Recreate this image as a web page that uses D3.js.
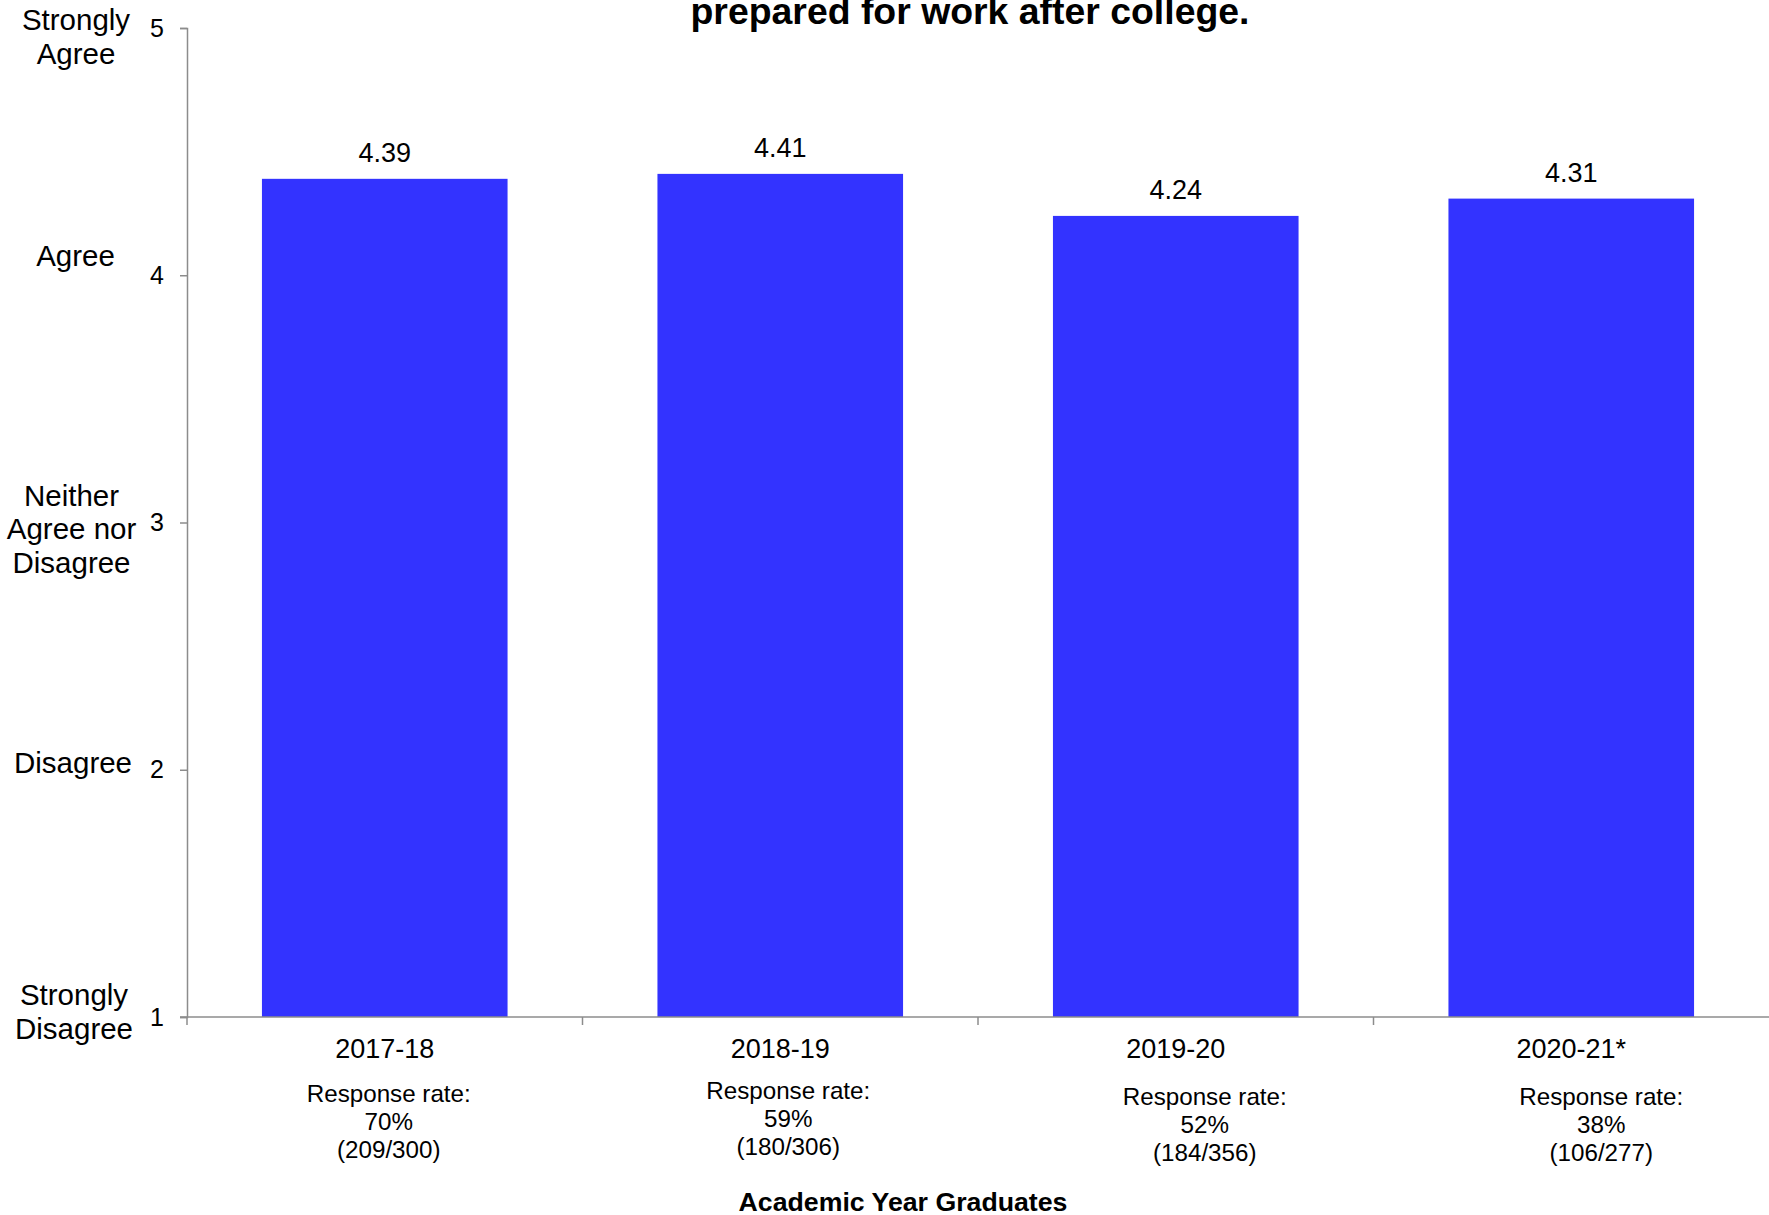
<!DOCTYPE html>
<html>
<head>
<meta charset="utf-8">
<script src="https://d3js.org/d3.v7.min.js"></script>
<style>
  html, body { margin: 0; padding: 0; background: #fff; }
  svg { display: block; }
  text { font-family: "Liberation Sans", Arial, Helvetica, sans-serif; fill: #000; }
</style>
</head>
<body>
<div id="chart"></div>
<script>
// ---- data ----
const categories = ["2017-18", "2018-19", "2019-20", "2020-21*"];
const meanScores = [4.39, 4.41, 4.24, 4.31];
const responseRates = ["70%", "59%", "52%", "38%"];
const respondents = [209, 180, 184, 106];
const graduates = [300, 306, 356, 277];
const yTickValues = [1, 2, 3, 4, 5];
const yTickLabels = [
  ["Strongly", "Disagree"],
  ["Disagree"],
  ["Neither", "Agree nor", "Disagree"],
  ["Agree"],
  ["Strongly", "Agree"]
];
const titleText = "prepared for work after college.";
const xAxisTitle = "Academic Year Graduates";

// ---- layout ----
const W = 1769, H = 1215;
const plotLeft = 187, plotRight = 1769, plotTop = 28, plotBottom = 1017;
// offsets of the free-placed text boxes (layout, not data)
const yLabelLayout = [
  { x: 74, dy: -12 },
  { x: 73, dy: 3 },
  { x: 71.5, dy: -17 },
  { x: 75.5, dy: -9 },
  { x: 76, dy: 2 }
];
const noteLayout = [
  { dx: 4, dy: 85 },
  { dx: 8, dy: 82 },
  { dx: 29, dy: 88 },
  { dx: 30, dy: 88 }
];

const svg = d3.select("#chart").append("svg")
  .attr("width", W).attr("height", H);

const x = d3.scaleBand()
  .domain(categories)
  .range([plotLeft, plotRight])
  .paddingInner(0.379)
  .paddingOuter(0.1895);

const y = d3.scaleLinear()
  .domain([1, 5])
  .range([plotBottom, plotTop]);

const axisColor = "#8c8c8c";

// bars
svg.append("g").selectAll("rect")
  .data(categories)
  .join("rect")
  .attr("x", d => x(d))
  .attr("y", (d, i) => y(meanScores[i]))
  .attr("width", x.bandwidth())
  .attr("height", (d, i) => y(1) - y(meanScores[i]))
  .attr("fill", "#3333ff");

// value labels
svg.append("g").selectAll("text")
  .data(categories)
  .join("text")
  .attr("x", d => x(d) + x.bandwidth() / 2)
  .attr("y", (d, i) => y(meanScores[i]) - 16.5)
  .attr("text-anchor", "middle")
  .style("font-size", "27px")
  .text((d, i) => meanScores[i].toFixed(2));

// y axis
const yAxis = d3.axisLeft(y)
  .tickValues(yTickValues)
  .tickFormat(d3.format("d"))
  .tickSize(7)
  .tickPadding(16);
const gy = svg.append("g")
  .attr("transform", `translate(${plotLeft},0)`)
  .call(yAxis);
gy.select(".domain").attr("stroke", axisColor).attr("stroke-width", 1.5);
gy.selectAll(".tick line").attr("stroke", axisColor).attr("stroke-width", 1.5);
gy.selectAll(".tick text")
  .style("font-size", "25px")
  .style("font-family", "'Liberation Sans', Arial, sans-serif")
  .attr("fill", "#000");

// y category labels
const ylab = svg.append("g");
yTickValues.forEach((v, i) => {
  const lay = yLabelLayout[i];
  const t = ylab.append("text")
    .attr("text-anchor", "middle")
    .style("font-size", "29.5px");
  yTickLabels[i].forEach((line, j) => {
    t.append("tspan")
      .attr("x", lay.x)
      .attr("y", y(v) + lay.dy + j * 33.5)
      .text(line);
  });
});

// x axis: line + separator ticks at band boundaries
const gx = svg.append("g");
gx.append("line")
  .attr("x1", plotLeft - 7).attr("x2", plotRight)
  .attr("y1", y(1)).attr("y2", y(1))
  .attr("stroke", axisColor).attr("stroke-width", 1.5);
const step = x.step();
const boundaries = categories.map(d => x(d) - x.paddingOuter() * step);
gx.selectAll("line.sep")
  .data(boundaries)
  .join("line")
  .attr("class", "sep")
  .attr("x1", d => d).attr("x2", d => d)
  .attr("y1", y(1)).attr("y2", y(1) + 8)
  .attr("stroke", axisColor).attr("stroke-width", 1.5);

// category labels
svg.append("g").selectAll("text")
  .data(categories)
  .join("text")
  .attr("x", d => x(d) + x.bandwidth() / 2)
  .attr("y", y(1) + 41)
  .attr("text-anchor", "middle")
  .style("font-size", "27px")
  .text(d => d);

// response-rate notes
const notes = svg.append("g");
categories.forEach((c, i) => {
  const cx = x(c) + x.bandwidth() / 2 + noteLayout[i].dx;
  const by = y(1) + noteLayout[i].dy;
  const lines = ["Response rate:", responseRates[i], `(${respondents[i]}/${graduates[i]})`];
  const t = notes.append("text")
    .attr("text-anchor", "middle")
    .style("font-size", "24.2px");
  lines.forEach((line, j) => {
    t.append("tspan").attr("x", cx).attr("y", by + j * 28).text(line);
  });
});

// title (visible line)
svg.append("text")
  .attr("x", 970)
  .attr("y", 24)
  .attr("text-anchor", "middle")
  .style("font-size", "37.4px")
  .style("font-weight", "bold")
  .text(titleText);

// x axis title
svg.append("text")
  .attr("x", 903)
  .attr("y", 1211)
  .attr("text-anchor", "middle")
  .style("font-size", "26.7px")
  .style("font-weight", "bold")
  .text(xAxisTitle);
</script>
</body>
</html>
